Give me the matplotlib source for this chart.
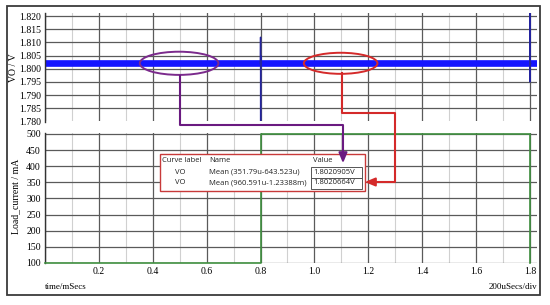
import matplotlib.pyplot as plt
from matplotlib.patches import Ellipse, Rectangle
from matplotlib.ticker import MultipleLocator

# output voltage VO: ripple band around the mean plus the two transient spikes
vo_band_t = [0.0, 1.826]
vo_band_v = [1.8021, 1.8021]
spike1_t = [0.7995, 0.8, 0.8003, 0.8006, 0.801, 0.803]
spike1_v = [1.8021, 1.8120, 1.7780, 1.8050, 1.8010, 1.8021]
spike2_t = [1.7995, 1.8, 1.8003, 1.8006, 1.801, 1.803]
spike2_v = [1.8021, 1.8212, 1.7950, 1.8040, 1.8015, 1.8021]

# load current step
load_t = [0.0, 0.8, 0.8, 1.8, 1.8]
load_i = [100, 100, 500, 500, 100]

# measurement windows (ms) and results
win1 = (0.35179, 0.643523)
win2 = (0.960591, 1.23388)
rows = [('VO', 'Mean (351.79u-643.523u)', '1.8020905V'),
        ('VO', 'Mean (960.591u-1.23388m)', '1.8020664V')]

W, H = 550, 305
fig = plt.figure(figsize=(W / 100, H / 100), dpi=100)
fig.patch.set_facecolor('white')

serif = 'Liberation Serif'
dark = '#5a5a5a'
light = '#d0d0d0'


def px(x0, y0, x1, y1):
    return [x0 / W, 1 - y1 / H, (x1 - x0) / W, (y1 - y0) / H]


ax1 = fig.add_axes(px(45, 13, 537, 121.5))
ax2 = fig.add_axes(px(45, 133, 537, 263))

for ax in (ax1, ax2):
    ax.set_xlim(0, 1.826)
    ax.xaxis.set_major_locator(MultipleLocator(0.2))
    ax.xaxis.set_minor_locator(MultipleLocator(0.1))
    ax.grid(which='minor', axis='x', color=light, lw=0.8)
    ax.grid(which='major', axis='x', color=dark, lw=0.9)
    ax.grid(which='major', axis='y', color=dark, lw=0.9)
    for s in ('top', 'right', 'bottom'):
        ax.spines[s].set_visible(False)
    ax.spines['left'].set_color('#333333')
    ax.spines['left'].set_linewidth(1.0)
    ax.tick_params(which='both', length=0, labelsize=7, pad=3)
    ax.set_axisbelow(True)

ax1.set_ylim(1.78, 1.8212)
ax1.yaxis.set_major_locator(MultipleLocator(0.005))
ax1.yaxis.set_major_formatter(lambda v, p: f'{v:.3f}')
ax1.set_xticklabels([])
ax1.plot(vo_band_t, vo_band_v, color='#1414ff', lw=4.8, solid_capstyle='butt')
ax1.plot(spike1_t, spike1_v, color='#24249e', lw=1.0)
ax1.plot(spike2_t, spike2_v, color='#24249e', lw=1.0)
for lab in ax1.get_yticklabels():
    lab.set_fontfamily(serif)

ax1.add_patch(Ellipse(((win1[0] + win1[1]) / 2, 1.8021), win1[1] - win1[0], 0.0088,
                      fill=False, edgecolor='#7b2a8c', lw=1.4, clip_on=False, zorder=5))
ax1.add_patch(Ellipse(((win2[0] + win2[1]) / 2, 1.8021), win2[1] - win2[0], 0.0080,
                      fill=False, edgecolor='#d42a2a', lw=1.4, clip_on=False, zorder=5))

ax2.set_ylim(100, 503)
ax2.yaxis.set_major_locator(MultipleLocator(50))
ax2.xaxis.set_major_formatter(lambda v, p: '' if v < 0.1 else f'{v:.1f}')
ax2.plot(load_t, load_i, color='#3f8f3f', lw=1.2, clip_on=False, zorder=3)
for lab in ax2.get_yticklabels() + ax2.get_xticklabels():
    lab.set_fontfamily(serif)

# overlay in pixel coordinates for frame, labels and the result table
ov = fig.add_axes([0, 0, 1, 1], zorder=10)
ov.set_xlim(0, W)
ov.set_ylim(H, 0)
ov.axis('off')
ov.patch.set_alpha(0)

ov.add_patch(Rectangle((7, 6), 533, 289, fill=False, edgecolor='#3a3a3a', lw=1.3))
ov.text(14, 68, 'VO / V', rotation=90, ha='center', va='center', fontsize=7, family=serif)
ov.text(16, 196, 'Load_current / mA', rotation=90, ha='center', va='center',
        fontsize=7, family=serif)
ov.text(45, 287, 'time/mSecs', ha='left', va='center', fontsize=6.5, family=serif)
ov.text(537, 287, '200uSecs/div', ha='right', va='center', fontsize=6.5, family=serif)

# connectors
purple = '#6a1a80'
red = '#d42a2a'
ov.plot([180, 180, 343, 343], [76, 125, 125, 156], color=purple, lw=1.5)
ov.annotate('', xy=(343, 166), xytext=(343, 154),
            arrowprops=dict(arrowstyle='-|>,head_width=0.25,head_length=0.6',
                            color=purple, lw=1.5))
ov.plot([342, 342, 395, 395, 372], [73, 113, 113, 182, 182], color=red, lw=1.5)
ov.annotate('', xy=(362, 182), xytext=(374, 182),
            arrowprops=dict(arrowstyle='-|>,head_width=0.25,head_length=0.6',
                            color=red, lw=1.5))

# result table
ov.add_patch(Rectangle((160, 154), 205, 37, facecolor='white', edgecolor='#c83a3a', lw=1.0))
tf = 'Open Sans'
fs = 5.5
ov.text(162, 160, 'Curve label', fontsize=fs, family=tf, va='center', color='#222222')
ov.text(209, 160, 'Name', fontsize=fs, family=tf, va='center', color='#222222')
ov.text(313, 160, 'Value', fontsize=fs, family=tf, va='center', color='#222222')
for i, (lab, name, val) in enumerate(rows):
    y = 172 + i * 11
    ov.text(175, y, lab, fontsize=fs, family=tf, va='center', color='#222222')
    ov.text(209, y, name, fontsize=fs, family=tf, va='center', color='#222222')
    ov.add_patch(Rectangle((311, y - 5.5), 51, 11, fill=False, edgecolor='#555555', lw=0.7))
    ov.text(313, y, val, fontsize=fs, family=tf, va='center', color='#222222')

fig.savefig('out.png', dpi=100)
